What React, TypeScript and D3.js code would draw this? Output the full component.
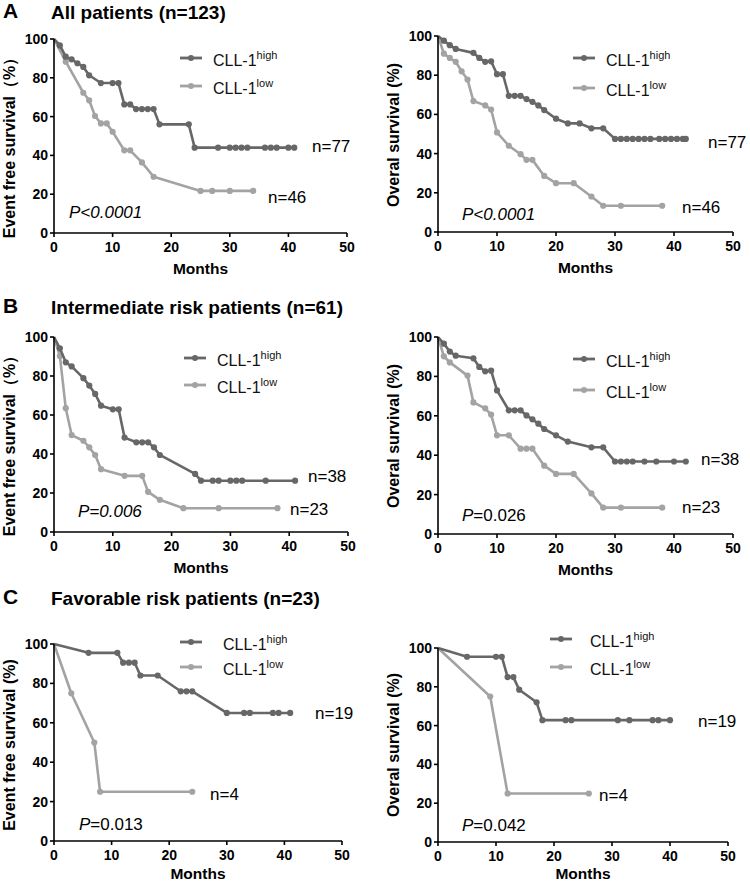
import React from 'react';
import * as d3 from 'd3';

// Kaplan-Meier curves: months / survival (%)
const aEfsHighMonths = [0, 1, 2, 3, 4, 5, 6, 8, 10, 11, 12, 13, 14, 15, 16, 17, 18, 23, 24, 28, 30, 31, 32, 33, 36, 37, 38, 40, 41];
const aEfsHighSurv = [100, 96.7, 90.9, 89.5, 87.5, 85.6, 81.3, 77.3, 77.3, 77.3, 66.3, 66.3, 63.9, 63.9, 63.9, 63.9, 56, 56, 44, 44, 44, 44, 44, 44, 44, 44, 44, 44, 44];
const aEfsLowMonths = [0, 2, 5, 6, 7, 8, 9, 10, 12, 13, 15, 17, 25, 27, 30, 34];
const aEfsLowSurv = [100, 88.3, 72.3, 68.4, 60.3, 56.5, 56.5, 52.2, 42.6, 42.6, 36.4, 29, 21.7, 21.7, 21.7, 21.7];

const aOsHighMonths = [0, 1, 2, 3, 6, 7, 8, 9, 10, 11, 12, 13, 14, 15, 16, 17, 18, 20, 22, 24, 26, 28, 30, 31, 32, 33, 34, 35, 36, 37.5, 38.5, 39.5, 40.5, 41.5, 42];
const aOsHighSurv = [100, 97.6, 95.3, 93.4, 91.4, 88.8, 86.8, 87.1, 80.5, 80.5, 69.5, 69.5, 69.5, 67.8, 66.4, 64.6, 62.2, 57.8, 55.4, 55.4, 52.9, 52.9, 47.5, 47.5, 47.5, 47.5, 47.5, 47.5, 47.5, 47.5, 47.5, 47.5, 47.5, 47.5, 47.5];
const aOsLowMonths = [0, 1, 2, 3, 4, 5, 6, 8, 9, 10, 12, 14, 15, 16, 18, 20, 23, 26, 28, 31, 38];
const aOsLowSurv = [100, 91, 88.8, 86.8, 82, 77.8, 66.8, 64.6, 62.5, 50.8, 44, 39.7, 36.8, 36.8, 28.6, 24.9, 24.9, 18.1, 13.4, 13.4, 13.4];

const bEfsHighMonths = [0, 1, 2, 3, 5, 6, 7, 8, 10, 11, 12, 14, 15, 16, 17, 18, 24, 25, 27, 28, 30, 31, 32, 36, 41];
const bEfsHighSurv = [100, 94.2, 87, 84.9, 78.9, 75.1, 70.8, 64.8, 62.9, 62.9, 48.4, 46, 46, 46, 43.4, 39.5, 29.8, 26.3, 26.3, 26.3, 26.3, 26.3, 26.3, 26.3, 26.3];
const bEfsLowMonths = [0, 1, 2, 3, 5, 6, 7, 8, 12, 15, 16, 18, 22, 28, 38];
const bEfsLowSurv = [100, 90.2, 63.5, 49.7, 46.8, 43.4, 39.5, 32.2, 28.8, 28.8, 20.6, 16.5, 12.2, 12.2, 12.2];

const bOsHighMonths = [0, 1, 2, 3, 6, 7, 8, 9, 10, 12, 13, 14, 15, 16, 17, 18, 20, 22, 26, 28, 30, 31, 32, 33, 35, 37, 40, 42];
const bOsHighSurv = [100, 96.6, 92.6, 90.5, 89.2, 84.8, 82.6, 82.9, 72.9, 62.8, 62.8, 62.8, 60.2, 58.2, 56, 53.3, 50.1, 46.9, 44, 44, 36.8, 36.8, 36.8, 36.8, 36.8, 36.8, 36.8, 36.8];
const bOsLowMonths = [0, 1, 2, 5, 6, 8, 9, 10, 12, 14, 15, 16, 18, 20, 23, 26, 28, 31, 38];
const bOsLowSurv = [100, 90.2, 87.1, 80.4, 66.8, 63.8, 60.6, 50.1, 50.1, 43.3, 43.3, 43.3, 34.7, 30.5, 30.5, 20.6, 13.4, 13.4, 13.4];

const cEfsHighMonths = [0, 6, 11, 12, 13, 14, 15, 18, 22, 23, 24, 30, 33, 34, 38, 39, 41];
const cEfsHighSurv = [100, 95.5, 95.5, 90.5, 90.5, 90.5, 84, 84, 76, 76, 76, 65, 65, 65, 65, 65, 65];
const cEfsLowMonths = [0, 3, 7, 8, 24];
const cEfsLowSurv = [100, 75, 50, 25, 25];

const cOsHighMonths = [0, 5, 10, 11, 12, 13, 14, 17, 18, 22, 23, 31, 33, 37, 38, 40];
const cOsHighSurv = [100, 95.5, 95.5, 95.5, 85, 85, 78.5, 72, 62.8, 62.8, 62.8, 62.8, 62.8, 62.8, 62.8, 62.8];
const cOsLowMonths = [0, 9, 12, 26];
const cOsLowSurv = [100, 75, 25, 25];

const xTicks = [0, 10, 20, 30, 40, 50];
const yTicks = [0, 20, 40, 60, 80, 100];

const HIGH = '#676767';
const LOW = '#a3a3a3';
const FONT = 'Liberation Sans, Arial, Helvetica, sans-serif';

type Pt = [number, number];
const zip = (m: number[], s: number[]): Pt[] => m.map((v, i) => [v, s[i]]);

const panels = [
  {
    x0: 54, x1: 347, yTop: 39, yBot: 233, ylabel: 'Event free survival（%）', ly: 144,
    high: zip(aEfsHighMonths, aEfsHighSurv), low: zip(aEfsLowMonths, aEfsLowSurv),
    leg: { x: 180, y1: 58, y2: 86, tx: 213 },
    nHigh: { t: 'n=77', x: 312, y: 152 }, nLow: { t: 'n=46', x: 268, y: 203 },
    p: { pre: 'P<0.0001', rest: '', x: 69, y: 218 },
  },
  {
    x0: 438, x1: 733, yTop: 36, yBot: 232, ylabel: 'Overal survival (%)', ly: 135,
    high: zip(aOsHighMonths, aOsHighSurv), low: zip(aOsLowMonths, aOsLowSurv),
    leg: { x: 573, y1: 58, y2: 88, tx: 606 },
    nHigh: { t: 'n=77', x: 708, y: 148 }, nLow: { t: 'n=46', x: 682, y: 213 },
    p: { pre: 'P<0.0001', rest: '', x: 462, y: 220 },
  },
  {
    x0: 54, x1: 348, yTop: 337, yBot: 532, ylabel: 'Event free survival（%）', ly: 442,
    high: zip(bEfsHighMonths, bEfsHighSurv), low: zip(bEfsLowMonths, bEfsLowSurv),
    leg: { x: 184, y1: 358, y2: 385, tx: 217 },
    nHigh: { t: 'n=38', x: 308, y: 482 }, nLow: { t: 'n=23', x: 290, y: 515 },
    p: { pre: 'P=0.006', rest: '', x: 78, y: 517 },
  },
  {
    x0: 438, x1: 733, yTop: 337, yBot: 534, ylabel: 'Overal survival (%)', ly: 436,
    high: zip(bOsHighMonths, bOsHighSurv), low: zip(bOsLowMonths, bOsLowSurv),
    leg: { x: 573, y1: 359, y2: 390, tx: 606 },
    nHigh: { t: 'n=38', x: 701, y: 465 }, nLow: { t: 'n=23', x: 682, y: 513 },
    p: { pre: 'P', rest: '=0.026', x: 462, y: 521 },
  },
  {
    x0: 54, x1: 342, yTop: 644, yBot: 841, ylabel: 'Event free survival (%)', ly: 745,
    high: zip(cEfsHighMonths, cEfsHighSurv), low: zip(cEfsLowMonths, cEfsLowSurv),
    leg: { x: 180, y1: 642, y2: 667, tx: 223 },
    nHigh: { t: 'n=19', x: 315, y: 719 }, nLow: { t: 'n=4', x: 210, y: 800 },
    p: { pre: 'P', rest: '=0.013', x: 79, y: 830 },
  },
  {
    x0: 438, x1: 728, yTop: 648, yBot: 842, ylabel: 'Overal survival (%)', ly: 745,
    high: zip(cOsHighMonths, cOsHighSurv), low: zip(cOsLowMonths, cOsLowSurv),
    leg: { x: 550, y1: 639, y2: 667, tx: 590 },
    nHigh: { t: 'n=19', x: 698, y: 727 }, nLow: { t: 'n=4', x: 599, y: 801 },
    p: { pre: 'P', rest: '=0.042', x: 462, y: 831 },
  },
];

const titles = [
  { letter: 'A', text: 'All patients (n=123)', y: 19 },
  { letter: 'B', text: 'Intermediate risk patients (n=61)', y: 314 },
  { letter: 'C', text: 'Favorable risk patients (n=23)', y: 605 },
];

const Panel = ({ cfg }: { cfg: typeof panels[number] }) => {
  const x = d3.scaleLinear().domain([0, 50]).range([cfg.x0, cfg.x1]);
  const y = d3.scaleLinear().domain([0, 100]).range([cfg.yBot, cfg.yTop]);
  const line = d3.line<Pt>().x(d => x(d[0])).y(d => y(d[1]));

  const curve = (pts: Pt[], color: string) => (
    <g>
      <path d={line(pts) || ''} fill="none" stroke={color} strokeWidth={2.6} strokeLinejoin="round" />
      {pts.slice(1).map((d, i) => (
        <circle key={i} cx={x(d[0])} cy={y(d[1])} r={3.1} fill={color} />
      ))}
    </g>
  );

  const legendRow = (yy: number, color: string, sup: string) => (
    <g>
      <line x1={cfg.leg.x} x2={cfg.leg.x + 22} y1={yy} y2={yy} stroke={color} strokeWidth={2.8} />
      <circle cx={cfg.leg.x + 11} cy={yy} r={3} fill={color} />
      <text x={cfg.leg.tx} y={yy + 8} fontSize={16} fill="#111">
        CLL-1<tspan dy={-7} fontSize={11}>{sup}</tspan>
      </text>
    </g>
  );

  return (
    <g fontFamily={FONT}>
      {curve(cfg.low, LOW)}
      {curve(cfg.high, HIGH)}
      {/* axes */}
      <line x1={cfg.x0} x2={cfg.x0} y1={cfg.yTop} y2={cfg.yBot} stroke="#000" strokeWidth={1.6} />
      <line x1={cfg.x0} x2={cfg.x1} y1={cfg.yBot} y2={cfg.yBot} stroke="#000" strokeWidth={1.6} />
      {yTicks.map(t => (
        <g key={'y' + t}>
          <line x1={cfg.x0 - 4} x2={cfg.x0} y1={y(t)} y2={y(t)} stroke="#000" strokeWidth={1.6} />
          <text x={cfg.x0 - 6} y={y(t)} dy="0.36em" textAnchor="end" fontSize={14} fontWeight="bold">{t}</text>
        </g>
      ))}
      {xTicks.map(t => (
        <g key={'x' + t}>
          <line x1={x(t)} x2={x(t)} y1={cfg.yBot} y2={cfg.yBot + 4} stroke="#000" strokeWidth={1.6} />
          <text x={x(t)} y={cfg.yBot + 19} textAnchor="middle" fontSize={14} fontWeight="bold">{t}</text>
        </g>
      ))}
      <text x={(cfg.x0 + cfg.x1) / 2} y={Math.min(cfg.yBot + 41, 879)} textAnchor="middle" fontSize={15.5} fontWeight="bold">Months</text>
      <text transform={`translate(${cfg.x0 - 39},${cfg.ly}) rotate(-90)`} textAnchor="middle" fontSize={16} fontWeight="bold">
        {cfg.ylabel}
      </text>
      {legendRow(cfg.leg.y1, HIGH, 'high')}
      {legendRow(cfg.leg.y2, LOW, 'low')}
      <text x={cfg.nHigh.x} y={cfg.nHigh.y} fontSize={17}>{cfg.nHigh.t}</text>
      <text x={cfg.nLow.x} y={cfg.nLow.y} fontSize={17}>{cfg.nLow.t}</text>
      <text x={cfg.p.x} y={cfg.p.y} fontSize={17}>
        <tspan fontStyle="italic">{cfg.p.pre}</tspan>
        {cfg.p.rest && <tspan>{cfg.p.rest}</tspan>}
      </text>
    </g>
  );
};

export default function App() {
  return (
    <svg width={750} height={884} style={{ position: 'absolute', left: 0, top: 0, background: '#fff' }}>
      <rect width={750} height={884} fill="#fff" />
      {titles.map(t => (
        <g key={t.letter} fontFamily={FONT} fontWeight="bold">
          <text x={3} y={t.y - 1} fontSize={21}>{t.letter}</text>
          <text x={51} y={t.y} fontSize={19}>{t.text}</text>
        </g>
      ))}
      {panels.map((p, i) => <Panel key={i} cfg={p} />)}
    </svg>
  );
}
